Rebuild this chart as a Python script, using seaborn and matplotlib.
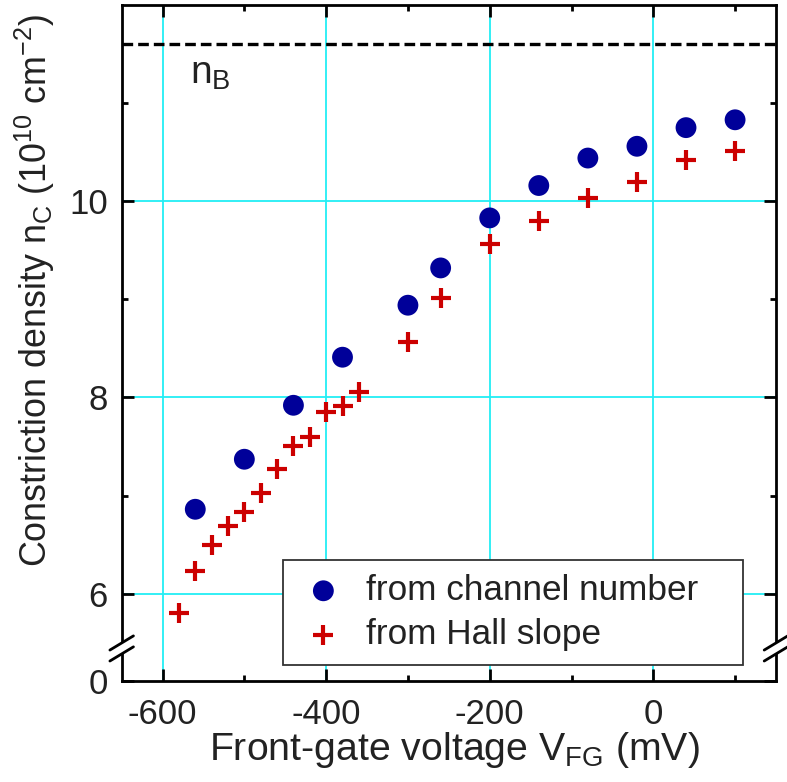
import numpy as np
import pandas as pd
import matplotlib
matplotlib.use("Agg")
import matplotlib.pyplot as plt
from matplotlib.patches import Rectangle
import seaborn as sns

# ---- data ----
vfg_channel = [-560, -500, -440, -380, -300, -260, -200, -140, -80, -20, 40, 100]
n_channel = [6.86, 7.37, 7.92, 8.41, 8.94, 9.32, 9.83, 10.16, 10.44, 10.56, 10.75, 10.83]

vfg_hall = [-580, -560, -540, -520, -500, -480, -460, -440, -420, -400, -380, -360,
            -300, -260, -200, -140, -80, -20, 40, 100]
n_hall = [5.80, 6.23, 6.50, 6.69, 6.83, 7.03, 7.27, 7.51, 7.60, 7.85, 7.91, 8.06,
          8.56, 9.01, 9.56, 9.80, 10.03, 10.20, 10.42, 10.51]

n_bulk = 11.6
x_ticks = [-600, -400, -200, 0]
x_minor = [-500, -300, -100, 100]
y_ticks = [6, 8, 10]
y_minor = [7, 9, 11]
y_break_bottom = 5.11   # position representing 0 below the axis break
labels = ["from channel number", "from Hall slope"]

df_c = pd.DataFrame({"V": vfg_channel, "n": n_channel})
df_h = pd.DataFrame({"V": vfg_hall, "n": n_hall})

sns.set_theme(style="white")
plt.rcParams["font.family"] = ["Liberation Sans", "DejaVu Sans"]
plt.rcParams["mathtext.fontset"] = "custom"
plt.rcParams["mathtext.rm"] = "Liberation Sans"
plt.rcParams["mathtext.it"] = "Liberation Sans:italic"
plt.rcParams["mathtext.bf"] = "Liberation Sans:bold"

fig = plt.figure(figsize=(7.87, 7.82), dpi=100)
ax = fig.add_axes([0.1546, 0.1292, 0.8314, 0.8644])

blue = "#000099"
red = "#CC0000"
grid_c = "#22EEF4"

for v in x_ticks:
    ax.axvline(v, color=grid_c, lw=1.3, zorder=0)
for v in y_ticks:
    ax.axhline(v, color=grid_c, lw=1.3, zorder=0)

ax.axhline(n_bulk, color="black", lw=2.4, dashes=(3.2, 1.5), zorder=1)

sns.scatterplot(data=df_c, x="V", y="n", ax=ax, color=blue, marker="o",
                s=225, edgecolor="none", zorder=3, label=labels[0], legend=False)
sns.scatterplot(data=df_h, x="V", y="n", ax=ax, color=red, marker="+",
                s=200, linewidth=3.0, zorder=3, label=labels[1], legend=False)

ax.set_xlim(-650, 150)
ax.set_ylim(y_break_bottom, 12.0)

ax.set_xticks(x_ticks)
ax.set_xticks(x_minor, minor=True)
ax.set_xticklabels([str(t) for t in x_ticks])
ax.set_yticks([y_break_bottom] + y_ticks)
ax.set_yticklabels(["0"] + [str(t) for t in y_ticks])
ax.set_yticks(y_minor, minor=True)

ax.tick_params(which="both", direction="in", top=True, right=True,
               bottom=True, left=True, width=2.0, color="black")
ax.tick_params(which="major", length=8.5)
ax.tick_params(which="minor", length=4.5)
ax.tick_params(axis="x", which="major", labelsize=25, pad=12, labelcolor="#222222")
ax.tick_params(axis="y", which="major", labelsize=25, pad=10, labelcolor="#222222")

for sp in ax.spines.values():
    sp.set_linewidth(2.0)
    sp.set_color("black")

ax.set_xlabel("Front-gate voltage V$_\\mathrm{FG}$ (mV)", fontsize=28.3, color="#222222")
ax.set_ylabel("Constriction density n$_\\mathrm{C}$ (10$^{10}$ cm$^{-2}$)",
              fontsize=25.8, color="#222222")
ax.xaxis.set_label_coords(0.509, -0.072)
ax.yaxis.set_label_coords(-0.099, 0.578)

ax.text(-566, 11.2, "n$_\\mathrm{B}$", fontsize=28, ha="left", va="baseline",
        color="#222222")

# axis break marks on both vertical spines
for xa in (0.0, 1.0):
    ax.plot([xa, xa], [0.040, 0.0562], transform=ax.transAxes, color="white",
            lw=4, clip_on=False, zorder=5, solid_capstyle="butt")
    for yc in (0.0562, 0.040):
        ax.plot([xa - 0.018, xa + 0.018], [yc - 0.0105, yc + 0.0105],
                transform=ax.transAxes, color="black", lw=2.0, clip_on=False,
                zorder=6)

# legend box
ax.add_patch(Rectangle((0.2465, 0.0237), 0.7031, 0.1553, transform=ax.transAxes,
                       facecolor="white", edgecolor="#333333", lw=1.3, zorder=4))
h, l = ax.get_legend_handles_labels()
leg = ax.legend(h, l, loc="lower left", bbox_to_anchor=(0.2465, 0.0237),
                bbox_transform=ax.transAxes, borderaxespad=0, fontsize=25.3,
                frameon=False, handletextpad=0.46, labelspacing=0.31,
                borderpad=0.4, handlelength=1.5, markerscale=1.0)
leg.set_zorder(6)
for t in leg.get_texts():
    t.set_color("#222222")

fig.savefig("out.png", dpi=100)
